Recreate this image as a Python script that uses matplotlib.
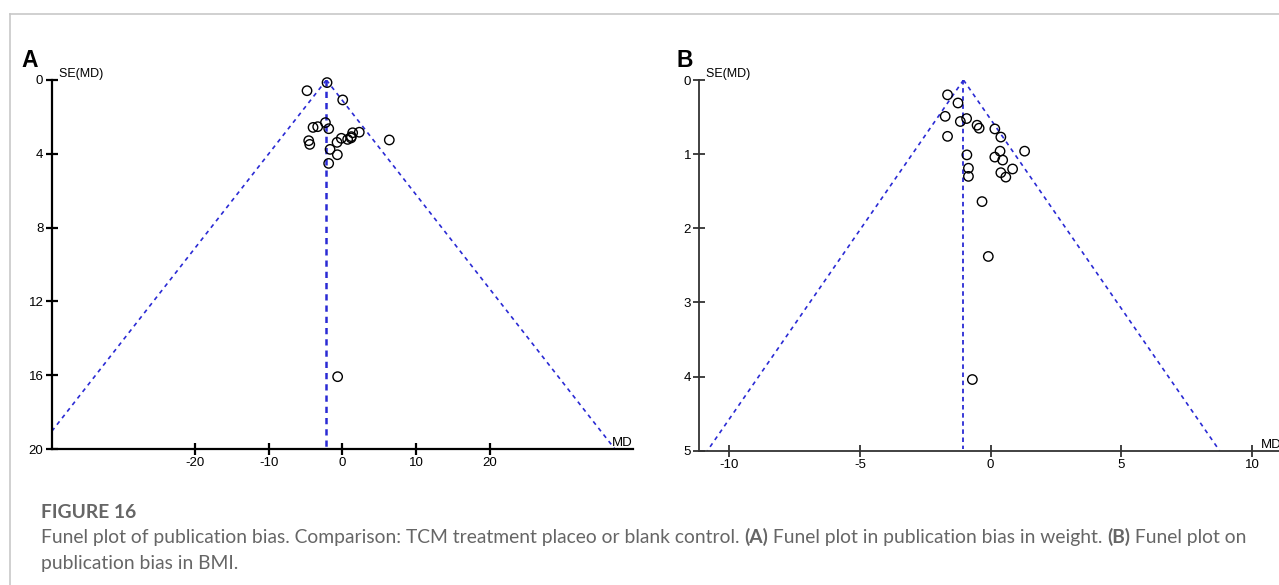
import numpy as np
import matplotlib
matplotlib.use("Agg")
import matplotlib.pyplot as plt
from matplotlib.lines import Line2D

# ---------------- data ----------------
# Panel A: weight (MD, SE(MD))
a_md = [-2.08, -4.8, 0.05, -3.98, -3.35, -2.3, -1.85, -4.57, -4.43, 6.38,
        2.3, 1.4, 1.22, 1.18, 0.72, -0.14, -0.72, -1.67, -0.68, -1.86, -0.64]
a_se = [0.14, 0.58, 1.08, 2.57, 2.53, 2.31, 2.64, 3.29, 3.49, 3.25,
        2.83, 2.86, 3.07, 3.14, 3.22, 3.16, 3.38, 3.76, 4.05, 4.52, 16.08]
a_pooled = -2.17
a_xticks = [-20, -10, 0, 10, 20]
a_yticks = [0, 4, 8, 12, 16, 20]
a_xlim = 39.5
a_ymax = 20

# Panel B: BMI (MD, SE(MD))
b_md = [-1.65, -1.25, -1.74, -1.16, -0.92, -0.52, -0.44, 0.16, 0.39, -1.65,
        1.30, 0.36, 0.16, 0.46, -0.91, 0.84, 0.39, 0.58, -0.85, -0.85,
        -0.33, -0.09, -0.70]
b_se = [0.20, 0.31, 0.49, 0.56, 0.52, 0.61, 0.65, 0.66, 0.77, 0.76,
        0.96, 0.96, 1.04, 1.08, 1.01, 1.20, 1.25, 1.31, 1.19, 1.30,
        1.64, 2.38, 4.04]
b_pooled = -1.04
b_xticks = [-10, -5, 0, 5, 10]
b_yticks = [0, 1, 2, 3, 4, 5]
b_xlim = 11.15
b_ymax = 5

caption_title = "FIGURE 16"
caption_pieces = [
    ("Funel plot of publication bias. Comparison: TCM treatment placeo or blank control. ", "normal"),
    ("(A)", "bold"),
    (" Funel plot in publication bias in weight. ", "normal"),
    ("(B)", "bold"),
    (" Funel plot on", "normal"),
]
caption_line2 = "publication bias in BMI."

W, H = 1279, 585
fig = plt.figure(figsize=(W / 100, H / 100), dpi=100)
fig.patch.set_facecolor("white")

AX_FONT = "Liberation Sans"
BLUE = "#2a2ad4"


def fx(px):
    return px / W


def fy(py):
    return 1 - py / H


def funnel(rect, md, se, pooled, xticks, yticks, xlim, ymax, lw_axis, axcol, vlw):
    left, right, top, bottom = rect
    ax = fig.add_axes([fx(left), fy(bottom), fx(right - left), (bottom - top) / H])
    ax.set_xlim(-xlim, xlim)
    ax.set_ylim(ymax, 0)
    for s in ["top", "right"]:
        ax.spines[s].set_visible(False)
    for s in ["left", "bottom"]:
        ax.spines[s].set_linewidth(lw_axis)
        ax.spines[s].set_color(axcol)
    ax.set_xticks(xticks)
    ax.set_yticks(yticks)
    ax.set_xticklabels([str(t) for t in xticks], fontfamily=AX_FONT, fontsize=9.5)
    ax.set_yticklabels([str(t) for t in yticks], fontfamily=AX_FONT, fontsize=9.5)
    ax.tick_params(direction="inout", length=8, width=lw_axis, color=axcol, pad=2)
    ax.patch.set_alpha(0)

    se_line = np.array([0, ymax])
    ax.plot(pooled - 1.96 * se_line, se_line, ls=(0, (2.5, 2.5)), color=BLUE, lw=1.2)
    ax.plot(pooled + 1.96 * se_line, se_line, ls=(0, (2.5, 2.5)), color=BLUE, lw=1.2)
    ax.plot([pooled, pooled], [0, ymax * 0.995], ls=(0, (2.5, 2.0)), color=BLUE, lw=vlw)

    ax.scatter(md, se, s=46, facecolors="none", edgecolors="black", linewidths=1.0,
               zorder=3, clip_on=False)

    ax.text(0.0, 1.0, "  SE(MD)", transform=ax.transAxes, ha="left", va="bottom",
            fontfamily=AX_FONT, fontsize=9)
    ax.text(1.0, 0.0, "MD", transform=ax.transAxes, ha="right", va="bottom",
            fontfamily=AX_FONT, fontsize=9.5)
    return ax


axA = funnel((51.7, 633, 80, 449), a_md, a_se, a_pooled, a_xticks, a_yticks, a_xlim,
             a_ymax, 1.6, "black", 1.8)
funnel((699.3, 1282, 80, 450.7), b_md, b_se, b_pooled, b_xticks, b_yticks, b_xlim,
       b_ymax, 1.3, "#333333", 1.3)

# panel letters
fig.text(fx(21), fy(67), "A", fontfamily=AX_FONT, fontweight="bold", fontsize=16.5,
         ha="left", va="baseline")
fig.text(fx(677), fy(67), "B", fontfamily=AX_FONT, fontweight="bold", fontsize=16.5,
         ha="left", va="baseline")

# page frame lines
fig.add_artist(Line2D([fx(9.5), fx(9.5)], [fy(14.3), 0], color="#c8c8c8", lw=1.2))
fig.add_artist(Line2D([fx(9.5), 1], [fy(14.3), fy(14.3)], color="#c8c8c8", lw=1.2))

# caption
CAP_FONT = "Lato"
CAP_COL = "#666666"
CAP_SIZE = 13.85
fig.text(fx(41), fy(518), caption_title, fontfamily=CAP_FONT, fontweight="bold",
         fontsize=CAP_SIZE, color=CAP_COL, ha="left", va="baseline")

prev = fig.text(fx(41), fy(543), caption_pieces[0][0], fontfamily=CAP_FONT,
                fontweight=caption_pieces[0][1], fontsize=CAP_SIZE, color=CAP_COL,
                ha="left", va="baseline")
for txt, wgt in caption_pieces[1:]:
    prev = axA.annotate(txt, xy=(1, 0), xycoords=prev, ha="left", va="bottom",
                        fontfamily=CAP_FONT, fontweight=wgt, fontsize=CAP_SIZE,
                        color=CAP_COL, annotation_clip=False)

fig.text(fx(41), fy(569), caption_line2, fontfamily=CAP_FONT, fontsize=CAP_SIZE,
         color=CAP_COL, ha="left", va="baseline")

fig.savefig("out.png", dpi=100, facecolor="white")
